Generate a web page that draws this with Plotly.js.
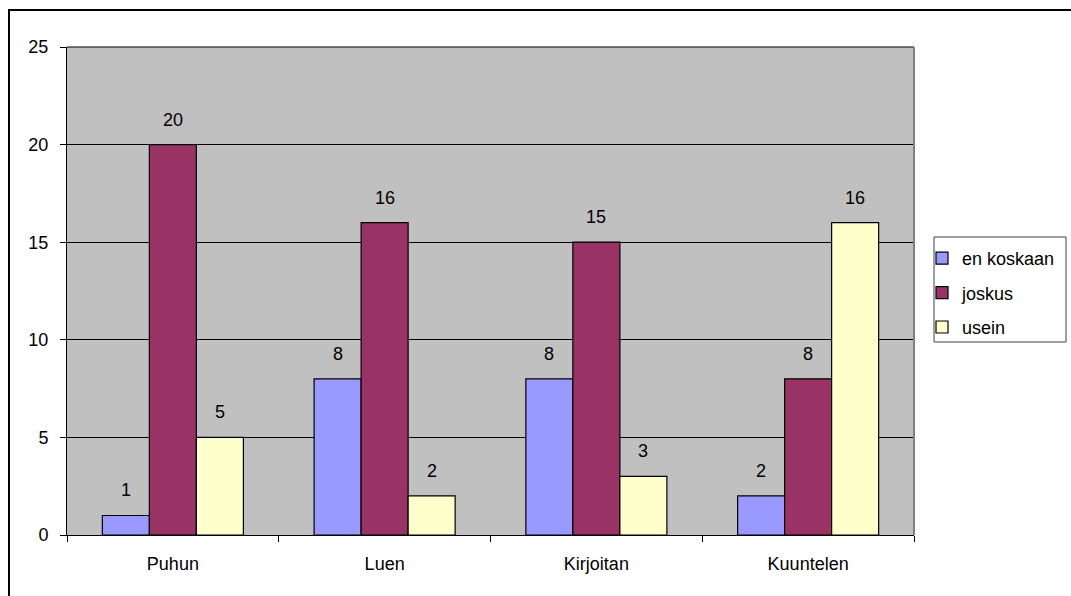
<!DOCTYPE html>
<html>
<head>
<meta charset="utf-8">
<script src="https://cdn.plot.ly/plotly-3.0.1.min.js"></script>
<style>
  html, body { margin: 0; padding: 0; background: #fff; }
  #wrap { position: relative; width: 1071px; height: 596px; overflow: hidden; }
  #chart { position: absolute; left: 0; top: 0; width: 1071px; height: 596px; }
  #frame { position: absolute; left: 8px; top: 9px; width: 1100px; height: 640px;
           border-left: 2px solid #000; border-top: 2px solid #000; pointer-events: none; }
</style>
</head>
<body>
<div id="wrap">
  <div id="chart"></div>
  <div id="frame"></div>
</div>
<script>
// Categories (activities) and answer counts per frequency
const categories = ['Puhun', 'Luen', 'Kirjoitan', 'Kuuntelen'];
const seriesNames = ['en koskaan', 'joskus', 'usein'];
const enKoskaan = [1, 8, 8, 2];
const joskus = [20, 16, 15, 8];
const usein = [5, 2, 3, 16];
const yTicks = [0, 5, 10, 15, 20, 25];

const seriesValues = [enKoskaan, joskus, usein];
const seriesColors = ['#9999FF', '#993366', '#FFFFCC'];
const FONT = 'Liberation Sans, Arial, sans-serif';
const FS = 18;
const BARGAP = 0.334;

const traces = seriesValues.map((vals, j) => ({
  type: 'bar',
  name: seriesNames[j],
  x: categories,
  y: vals,
  legendgroup: 'g' + j,
  marker: { color: seriesColors[j], line: { color: '#000', width: 1.2 } },
  hoverinfo: 'x+y+name'
}));

// Value labels above each bar, placed at the bar's offset within its group
const barW = (1 - BARGAP) / seriesValues.length;
const annotations = [];
seriesValues.forEach((vals, j) => {
  vals.forEach((v, i) => {
    annotations.push({
      x: i + (j - (seriesValues.length - 1) / 2) * barW,
      y: v, xref: 'x', yref: 'y',
      text: String(v), showarrow: false,
      yanchor: 'bottom', yshift: 13,
      font: { family: FONT, size: FS, color: '#000' }
    });
  });
});

const layout = {
  width: 1071, height: 596,
  margin: { l: 67, r: 157, t: 47, b: 61, pad: 0, autoexpand: false },
  paper_bgcolor: '#fff',
  plot_bgcolor: '#C0C0C0',
  barmode: 'group',
  bargap: BARGAP,
  bargroupgap: 0,
  font: { family: FONT, size: FS, color: '#000' },
  showlegend: true,
  legend: {
    x: (922 - 67) / 847, xanchor: 'left',
    y: (535 - 240) / 488, yanchor: 'top',
    bgcolor: 'rgba(0,0,0,0)',
    borderwidth: 0,
    tracegroupgap: 8,
    traceorder: 'grouped',
    itemclick: false,
    font: { family: FONT, size: FS, color: '#000' }
  },
  xaxis: {
    type: 'category',
    tickson: 'boundaries',
    ticks: 'outside', ticklen: 6, tickcolor: '#000', tickwidth: 1,
    showline: true, linecolor: '#000', linewidth: 1,
    showgrid: false, zeroline: false,
    ticklabelstandoff: 12,
    tickfont: { family: FONT, size: FS }
  },
  yaxis: {
    range: [0, 25],
    tickvals: yTicks,
    ticks: 'outside', ticklen: 6, tickcolor: '#000', tickwidth: 1,
    showline: true, linecolor: '#000', linewidth: 1,
    showgrid: true, gridcolor: '#000', gridwidth: 1,
    zeroline: false,
    ticklabelstandoff: 8,
    tickfont: { family: FONT, size: FS }
  },
  annotations: annotations,
  shapes: [
    // plot area top edge and right edge
    { type: 'line', xref: 'paper', yref: 'paper', x0: 0, x1: 1, y0: 1, y1: 1,
      line: { color: '#000', width: 1 } },
    { type: 'line', xref: 'paper', yref: 'paper', x0: 1, x1: 1, y0: 0, y1: 1,
      line: { color: '#808080', width: 2 } },
    // legend box
    { type: 'rect', xref: 'paper', yref: 'paper',
      x0: (934 - 67) / 847, x1: (1066 - 67) / 847,
      y0: (535 - 342) / 488, y1: (535 - 237) / 488,
      line: { color: '#404040', width: 1 }, fillcolor: 'rgba(0,0,0,0)' }
  ]
};

Plotly.newPlot('chart', traces, layout, { displayModeBar: false });
</script>
</body>
</html>
